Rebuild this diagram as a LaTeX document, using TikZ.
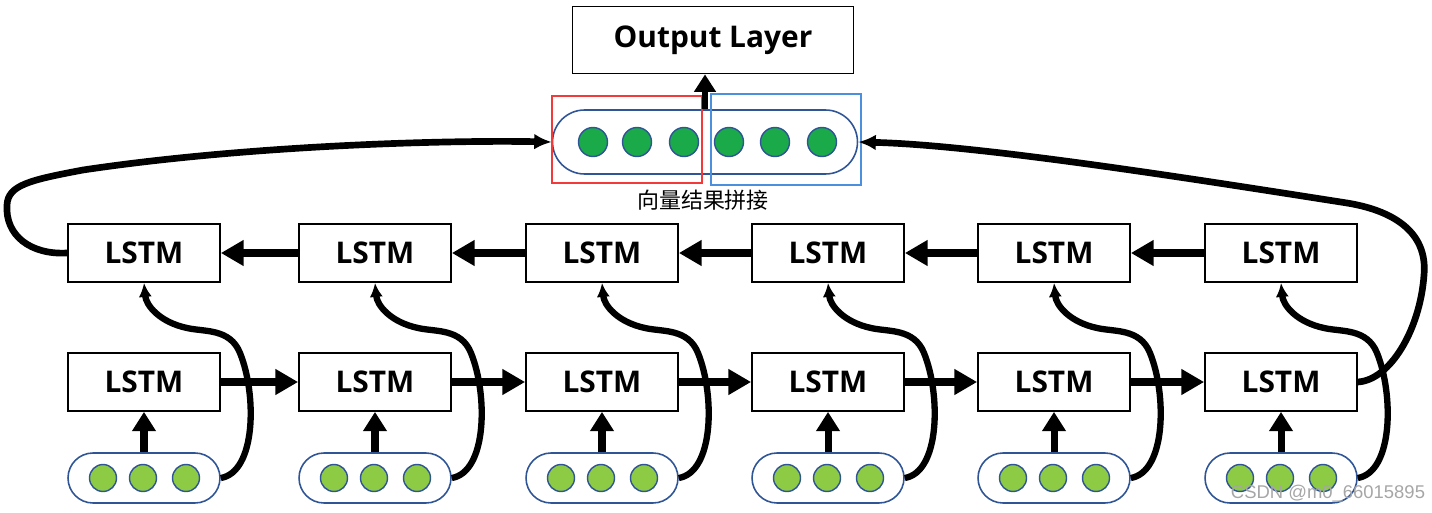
\documentclass[tikz,border=0pt]{standalone}
\usepackage{fontspec}
\setmainfont{Open Sans}
\newfontfamily\cjk{Noto Sans CJK SC}
\newfontfamily\marksans{Liberation Sans}
\usepackage{xcolor}
\usetikzlibrary{positioning, arrows.meta}

\definecolor{pillblue}{HTML}{2F5597}
\definecolor{dotgreen}{HTML}{1AAA4A}
\definecolor{lightgreen}{HTML}{8DCB45}
\definecolor{markred}{HTML}{F23A3A}
\definecolor{markblue}{HTML}{4A90DD}

\begin{document}
\begin{tikzpicture}[
  x=0.02cm, y=-0.02cm,
  lstm/.style={draw, line width=1pt, minimum width=3.04cm, minimum height=1.16cm, font=\fontsize{17}{20}\selectfont\bfseries},
  outbox/.style={draw, line width=1pt, minimum width=5.62cm, minimum height=1.34cm, font=\fontsize{17}{20}\selectfont\bfseries},
  inpill/.style={draw=pillblue, line width=0.9pt, rounded corners=0.5cm, minimum width=3.04cm, minimum height=1cm},
  catpill/.style={draw=pillblue, line width=0.9pt, rounded corners=0.64cm, minimum width=6.1cm, minimum height=1.28cm},
  indot/.style={circle, draw=pillblue, line width=0.8pt, fill=lightgreen, minimum size=0.54cm, inner sep=0pt},
  catdot/.style={circle, draw=pillblue, line width=0.8pt, fill=dotgreen, minimum size=0.58cm, inner sep=0pt},
  halfbox/.style={draw, line width=1.1pt, minimum width=3cm, inner sep=0pt},
  arrow/.style={-{Triangle[length=13pt, width=14pt]}, line width=4pt},
  curve/.style={-{Latex[length=8pt, width=7.5pt]}, line width=3.6pt},
  longcurve/.style={-{Latex[length=10pt, width=9pt]}, line width=3.8pt},
]
  \useasboundingbox (0,0) rectangle (1432,513);

  % Output layer and concatenated vector
  \node[outbox] (output) at (713,40) {Output Layer};
  \node[catpill] (concat) at (705,142) {};
  \foreach \d [count=\j] in {-112,-68,-21,24,70,117}
    \node[catdot] (cat\j) at ({705+\d},142) {};
  \node[halfbox, draw=markred, minimum height=1.74cm] (fwdpart) at (627,139.5) {};
  \node[halfbox, draw=markblue, minimum height=1.82cm] (bwdpart) at (786,139.5) {};
  \node[font=\cjk\fontsize{12.5}{14}\selectfont] (caption) at (703,200) {向量结果拼接};

  \draw[-{Triangle[length=10pt, width=12pt]}, line width=3pt] (concat.north) -- (concat.north |- output.south);

  % Columns: input vector, forward LSTM, backward LSTM
  \foreach \i/\x in {1/144,2/375,3/602,4/828,5/1054,6/1281}{
    \node[lstm] (top\i) at (\x,253) {LSTM};
    \node[lstm] (bot\i) at (\x,382) {LSTM};
    \node[inpill] (in\i) at (\x,478) {};
    \foreach \d [count=\j] in {-41,-1,42}
      \node[indot] (dot\i-\j) at ({\x+\d},478) {};
    \draw[-{Triangle[length=11pt, width=13pt]}, line width=4pt] (in\i) -- (bot\i);
    \draw[curve] (in\i.east) .. controls ({\x+112},472) and ({\x+113},395) .. ({\x+96},353)
      .. controls ({\x+86},328) and ({\x+60},332) .. ({\x+43},328)
      .. controls ({\x+15},322) and ({\x+2},305) .. (top\i.south);
  }

  % Forward and backward links
  \foreach \i [evaluate=\i as \j using int(\i+1)] in {1,...,5}{
    \draw[arrow] (bot\i) -- (bot\j);
    \draw[arrow] (top\j) -- (top\i);
  }

  % Last states to the concatenated vector
  \draw[longcurve] (top1.west) .. controls (30,255) and (5,235) .. (7,205)
    .. controls (8,185) and (30,180) .. (83,170)
    .. controls (250,145) and (450,140) .. (concat.west);
  \draw[longcurve] (bot6.east) .. controls (1390,380) and (1420,330) .. (1424,275)
    .. controls (1428,230) and (1390,210) .. (1347,203)
    .. controls (1200,180) and (980,145) .. (concat.east);

  % Watermark
  \node[font=\marksans\fontsize{10.5}{12}\selectfont, text=gray!70] (mark) at (1328,494) {CSDN @m0\_66015895};
\end{tikzpicture}
\end{document}
